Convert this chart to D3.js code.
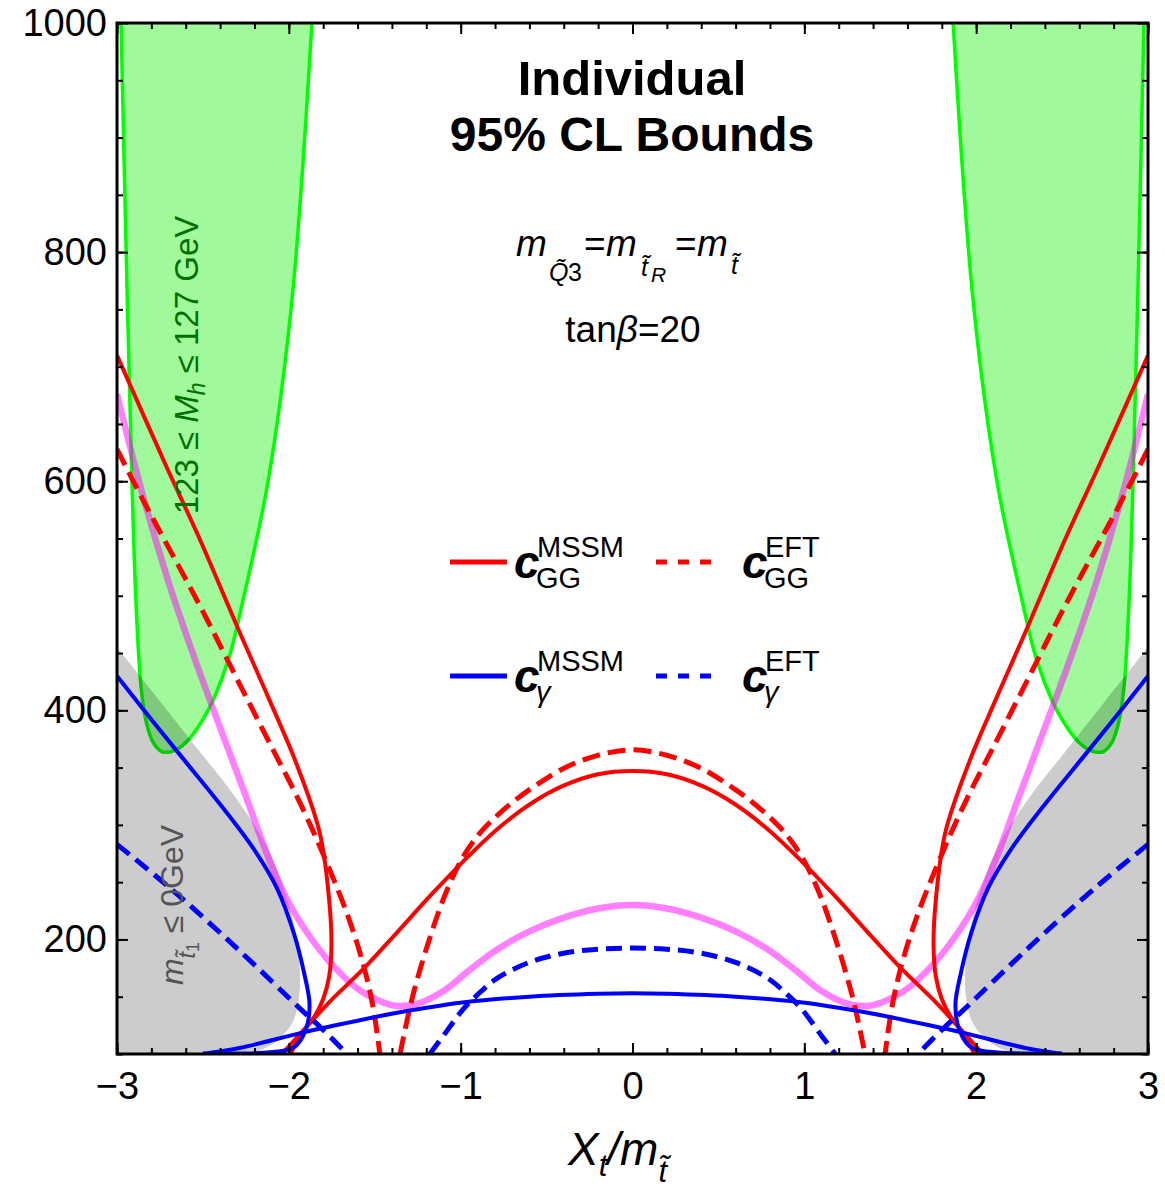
<!DOCTYPE html>
<html>
<head>
<meta charset="utf-8">
<script src="https://cdn.jsdelivr.net/npm/d3@7"></script>
<style>
body { margin: 0; background: #fff; }
text { font-family: "Liberation Sans", Arial, sans-serif; }
</style>
</head>
<body>
<div class="chart"></div>
<script>

// ---- values (x = Xt/m_t, y = m_t in GeV) ----

var xTicks = [-3, -2, -1, 0, 1, 2, 3];
var yTicks = [200, 400, 600, 800, 1000];

// pink curve
var pinkX = [-3, -2.85, -2.7, -2.55, -2.4, -2.25, -2.12, -2.0, -1.88, -1.76, -1.6, -1.45, -1.37, -1.25, -1.1, -0.95, -0.79, -0.6, -0.4, -0.2, 0,
             0.2, 0.4, 0.6, 0.79, 0.95, 1.1, 1.25, 1.37, 1.45, 1.6, 1.76, 1.88, 2.0, 2.12, 2.25, 2.4, 2.55, 2.7, 2.85, 3];
var pinkY = [676, 588, 512, 446, 385, 325, 272, 232, 203, 180, 157, 145, 142, 144, 155, 173, 191, 207, 219, 227, 230,
             227, 219, 207, 191, 173, 155, 144, 142, 145, 157, 180, 203, 232, 272, 325, 385, 446, 512, 588, 676];

// c_GG MSSM (solid red)
var ggMssmLeftX  = [-3, -2.71, -2.52, -2.28, -2.11, -1.96, -1.82, -1.765, -1.752, -1.765, -1.8, -1.85, -1.92, -1.99];
var ggMssmLeftY  = [710, 612, 550, 466, 408, 355, 293, 234, 195, 168, 148, 133, 119, 100];
var ggMssmRightX = [3, 2.71, 2.52, 2.28, 2.11, 1.96, 1.82, 1.765, 1.752, 1.765, 1.8, 1.85, 1.92, 1.99];
var ggMssmRightY = [710, 612, 550, 466, 408, 355, 293, 234, 195, 168, 148, 133, 119, 100];
var ggMssmMidX = [-2.04, -1.877, -1.76, -1.568, -1.371, -1.178, -0.986, -0.789, -0.597, -0.405, -0.207, 0,
                  0.207, 0.405, 0.597, 0.789, 0.986, 1.178, 1.371, 1.568, 1.76, 1.877, 2.04];
var ggMssmMidY = [100, 127, 146, 174, 206, 238, 268, 296, 318, 334, 344, 347,
                  344, 334, 318, 296, 268, 238, 206, 174, 146, 127, 100];

// c_GG EFT (dashed red)
var ggEftLeftX  = [-3, -2.85, -2.52, -2.28, -2.09, -1.97, -1.86, -1.76, -1.66, -1.57, -1.51, -1.47];
var ggEftLeftY  = [628, 584, 492, 421, 365, 330, 295, 260, 222, 180, 141, 100];
var ggEftRightX = [3, 2.85, 2.52, 2.28, 2.09, 1.97, 1.86, 1.76, 1.66, 1.57, 1.51, 1.47];
var ggEftRightY = [628, 584, 492, 421, 365, 330, 295, 260, 222, 180, 141, 100];
var ggEftMidX = [-1.353, -1.28, -1.178, -1.08, -0.986, -0.887, -0.789, -0.696, -0.597, -0.405, -0.207, 0,
                 0.207, 0.405, 0.597, 0.696, 0.789, 0.887, 0.986, 1.08, 1.178, 1.28, 1.353];
var ggEftMidY = [100, 150, 202, 243, 272, 293, 308, 320, 331, 349, 360.5, 365.5,
                 360.5, 349, 331, 320, 308, 293, 272, 243, 202, 150, 100];

// c_gamma MSSM (solid blue)
var gaMssmLeftX  = [-3, -2.8, -2.6, -2.4, -2.2, -2.07, -1.97, -1.91, -1.88, -1.89, -1.92, -1.96, -2.01, -2.15, -2.3, -2.5];
var gaMssmLeftY  = [430, 392, 355, 318, 278, 245, 205, 170, 145, 127, 115, 107, 103.5, 101, 100.5, 100.5];
var gaMssmRightX = [3, 2.8, 2.6, 2.4, 2.2, 2.07, 1.97, 1.91, 1.88, 1.89, 1.92, 1.96, 2.01, 2.15, 2.3, 2.5];
var gaMssmRightY = [430, 392, 355, 318, 278, 245, 205, 170, 145, 127, 115, 107, 103.5, 101, 100.5, 100.5];
var gaMssmMidX = [-2.5, -2.28, -1.94, -1.76, -1.37, -0.99, -0.6, -0.2, 0, 0.2, 0.6, 0.99, 1.37, 1.76, 1.94, 2.28, 2.5];
var gaMssmMidY = [100, 105.5, 118, 124, 136, 145, 150, 152.5, 153, 152.5, 150, 145, 136, 124, 118, 105.5, 100];

// c_gamma EFT (dashed blue)
var gaEftLeftX  = [-3, -2.7, -2.3, -1.93, -1.8, -1.66];
var gaEftLeftY  = [283, 246, 192, 139, 121, 100];
var gaEftRightX = [3, 2.7, 2.3, 1.93, 1.8, 1.66];
var gaEftRightY = [283, 246, 192, 139, 121, 100];
var gaEftMidX = [-1.18, -1.1, -0.986, -0.9, -0.789, -0.6, -0.4, -0.2, 0, 0.2, 0.4, 0.6, 0.789, 0.9, 0.986, 1.1, 1.18];
var gaEftMidY = [100, 116, 139, 152, 166, 180, 188, 191.5, 192.5, 191.5, 188, 180, 166, 152, 139, 116, 100];

// 123 <= Mh <= 127 GeV region (green), outline of each lobe
var higgsLeftX  = [-2.978, -2.94, -2.913, -2.89, -2.86, -2.83, -2.79, -2.74, -2.7, -2.65, -2.58, -2.5, -2.44, -2.35, -2.267, -2.121, -1.982, -1.862];
var higgsLeftY  = [1010, 758, 600, 496, 420, 390, 372, 364, 363.5, 366, 375, 392, 409, 445, 496, 600, 758, 1010];
var higgsRightX = [2.978, 2.94, 2.913, 2.89, 2.86, 2.83, 2.79, 2.74, 2.7, 2.65, 2.58, 2.5, 2.44, 2.35, 2.267, 2.121, 1.982, 1.862];
var higgsRightY = [1010, 758, 600, 496, 420, 390, 372, 364, 363.5, 366, 375, 392, 409, 445, 496, 600, 758, 1010];

// m_stop1 <= 0 region (gray), boundary from the frame edge down to the bottom
var tachLeftX  = [-3, -2.75, -2.54, -2.3, -2.12, -2.02, -1.96, -1.935, -1.945, -1.98, -2.05, -2.14, -2.25];
var tachLeftY  = [455, 408, 368, 322, 279, 240, 205, 170, 145, 127, 114, 105, 100];
var tachRightX = [3, 2.75, 2.54, 2.3, 2.12, 2.02, 1.96, 1.935, 1.945, 1.98, 2.05, 2.14, 2.25];
var tachRightY = [455, 408, 368, 322, 279, 240, 205, 170, 145, 127, 114, 105, 100];

var legendItems = [
  {sup: "MSSM", sub: "GG", color: "#ff0000", dash: null, col: 0, row: 0},
  {sup: "EFT",  sub: "GG", color: "#ff0000", dash: "11,11", col: 1, row: 0},
  {sup: "MSSM", sub: "\u03b3", color: "#0000ff", dash: null, col: 0, row: 1},
  {sup: "EFT",  sub: "\u03b3", color: "#0000ff", dash: "11,11", col: 1, row: 1}
];

// ---- drawing ----

function pts(xs, ys) { return xs.map(function(v, i) { return [v, ys[i]]; }); }

var svg = d3.select("div.chart").append("svg")
            .attr("width", 1165)
            .attr("height", 1192);

var x = d3.scaleLinear().domain([-3, 3]).range([117, 1148]);
var y = d3.scaleLinear().domain([100, 1000]).range([1054, 23]);

var line = d3.line()
  .x(function(d) { return x(d[0]); })
  .y(function(d) { return y(d[1]); })
  .curve(d3.curveCatmullRom.alpha(0.5));

svg.append("clipPath").attr("id", "plotclip")
   .append("rect").attr("x", 117).attr("y", 23).attr("width", 1031).attr("height", 1031);

var plot = svg.append("g").attr("clip-path", "url(#plotclip)");

// green lobes
[[higgsLeftX, higgsLeftY], [higgsRightX, higgsRightY]].forEach(function(p) {
  plot.append("path")
      .attr("d", line(pts(p[0], p[1])) + "Z")
      .attr("fill", "rgb(160,250,155)")
      .attr("stroke", "#00ff00")
      .attr("stroke-width", 3.5);
});

// gray lobes, black at 20% so green shows through darker
[[tachLeftX, tachLeftY, -3.2], [tachRightX, tachRightY, 3.2]].forEach(function(p) {
  var d = line(pts(p[0], p[1]));
  var xl = p[0][p[0].length - 1];
  d += "L" + x(xl) + "," + y(80) + "L" + x(p[2]) + "," + y(80) +
       "L" + x(p[2]) + "," + y(p[1][0]) + "Z";
  plot.append("path").attr("d", d).attr("fill", "#000").attr("fill-opacity", 0.2);
});

// pink
plot.append("path")
    .attr("d", line(pts(pinkX, pinkY)))
    .attr("fill", "none")
    .attr("stroke", "#ff00ff")
    .attr("stroke-opacity", 0.5)
    .attr("stroke-width", 6.5);

function curve(xs, ys, color, dash, w) {
  var p = plot.append("path")
      .attr("d", line(pts(xs, ys)))
      .attr("fill", "none")
      .attr("stroke", color)
      .attr("stroke-width", w);
  if (dash) p.attr("stroke-dasharray", dash);
}

curve(ggEftLeftX, ggEftLeftY, "#ff0000", "18,8", 5);
curve(ggEftRightX, ggEftRightY, "#ff0000", "18,8", 5);
curve(ggEftMidX, ggEftMidY, "#ff0000", "18,8", 5);
curve(ggMssmLeftX, ggMssmLeftY, "#ff0000", null, 4);
curve(ggMssmRightX, ggMssmRightY, "#ff0000", null, 4);
curve(ggMssmMidX, ggMssmMidY, "#ff0000", null, 4);

curve(gaEftLeftX, gaEftLeftY, "#0000ff", "16,8", 5);
curve(gaEftRightX, gaEftRightY, "#0000ff", "16,8", 5);
curve(gaEftMidX, gaEftMidY, "#0000ff", "16,8", 5);
curve(gaMssmLeftX, gaMssmLeftY, "#0000ff", null, 4);
curve(gaMssmRightX, gaMssmRightY, "#0000ff", null, 4);
curve(gaMssmMidX, gaMssmMidY, "#0000ff", null, 4);

// ---- axes: ticks inward on all four sides ----
var xMinor = d3.range(-3, 3.001, 0.2);
var yMinor = d3.range(100, 1000.1, 50);

function addAxis(axis, tx, ty, cls) {
  var g = svg.append("g").attr("class", cls)
     .attr("transform", "translate(" + tx + "," + ty + ")")
     .call(axis);
  g.select(".domain").remove();
  g.selectAll("line").attr("stroke", "#000").attr("stroke-width", 2);
  return g;
}

addAxis(d3.axisBottom(x).tickValues(xMinor).tickSize(-6).tickFormat(""), 0, 1054, "x minor");
addAxis(d3.axisTop(x).tickValues(xMinor).tickSize(-6).tickFormat(""), 0, 23, "x minor");
addAxis(d3.axisLeft(y).tickValues(yMinor).tickSize(-6).tickFormat(""), 117, 0, "y minor");
addAxis(d3.axisRight(y).tickValues(yMinor).tickSize(-6).tickFormat(""), 1148, 0, "y minor");

addAxis(d3.axisBottom(x).tickValues(xTicks).tickSize(-11).tickPadding(18).tickFormat(d3.format("d")), 0, 1054, "x axis");
addAxis(d3.axisTop(x).tickValues(xTicks).tickSize(-11).tickFormat(""), 0, 23, "x axis");
addAxis(d3.axisLeft(y).tickValues(yTicks).tickSize(-11).tickPadding(10).tickFormat(d3.format("d")), 117, 0, "y axis");
addAxis(d3.axisRight(y).tickValues(yTicks).tickSize(-11).tickFormat(""), 1148, 0, "y axis");

svg.selectAll(".axis text")
   .attr("font-family", "Liberation Sans, Arial, sans-serif")
   .attr("font-size", 38)
   .attr("fill", "#000");

svg.append("rect")
   .attr("x", 117).attr("y", 23).attr("width", 1031).attr("height", 1031)
   .attr("fill", "none").attr("stroke", "#000").attr("stroke-width", 3);

// ---- texts ----
svg.append("text").attr("x", 632).attr("y", 95).attr("text-anchor", "middle")
   .attr("font-size", 49).attr("font-weight", "bold").text("Individual");
svg.append("text").attr("x", 632).attr("y", 151).attr("text-anchor", "middle")
   .attr("font-size", 48).attr("font-weight", "bold").text("95% CL Bounds");

// m_Q3 = m_tR = m_t
var eq = svg.append("g");
function txt(g, xx, yy, s, size, italic) {
  return g.append("text").attr("x", xx).attr("y", yy).attr("font-size", size)
          .attr("font-style", italic ? "italic" : "normal").text(s);
}
txt(eq, 516, 256, "m", 37, true);
txt(eq, 549, 281, "Q\u0303", 25, true);
txt(eq, 568, 281, "3", 25, false);
txt(eq, 584, 256, "=", 37, false);
txt(eq, 606, 256, "m", 37, true);
txt(eq, 641, 276, "t\u0303", 25, true);
txt(eq, 651, 282, "R", 21, true);
txt(eq, 675, 256, "=", 37, false);
txt(eq, 697, 256, "m", 37, true);
txt(eq, 731, 274, "t\u0303", 25, true);

var tb = svg.append("text").attr("x", 633).attr("y", 342).attr("text-anchor", "middle").attr("font-size", 37);
tb.append("tspan").text("tan");
tb.append("tspan").attr("font-style", "italic").text("\u03b2");
tb.append("tspan").text("=20");

// green label
var gl = svg.append("text").attr("transform", "translate(198,365) rotate(-90)")
   .attr("text-anchor", "middle").attr("font-size", 33).attr("fill", "#007000");
gl.append("tspan").text("123 \u2264 ");
gl.append("tspan").attr("font-style", "italic").text("M");
gl.append("tspan").attr("font-style", "italic").attr("font-size", 23).attr("dy", 7).text("h");
gl.append("tspan").attr("dy", -7).text(" \u2264 127 GeV");

// gray label
var tl = svg.append("text").attr("transform", "translate(183,905) rotate(-90)")
   .attr("text-anchor", "middle").attr("font-size", 32).attr("fill", "#555");
tl.append("tspan").attr("font-style", "italic").text("m");
tl.append("tspan").attr("font-style", "italic").attr("font-size", 23).attr("dy", 12).text("t\u0303");
tl.append("tspan").attr("font-size", 18).attr("dy", 4).text("1");
tl.append("tspan").attr("dy", -16).text(" \u2264 0GeV");

// x axis title
var xt = svg.append("text").attr("x", 568).attr("y", 1165).attr("font-size", 46).attr("font-style", "italic");
xt.append("tspan").text("X");
xt.append("tspan").attr("font-size", 31).attr("dy", 11).text("t");
xt.append("tspan").attr("dy", -11).text("/m");
xt.append("tspan").attr("font-size", 31).attr("dy", 17).text("t\u0303");

// legend
var lg = svg.append("g");
legendItems.forEach(function(d) {
  var lx = 450 + d.col * 206, ly = 562 + d.row * 114;
  var l = lg.append("line").attr("x1", lx).attr("x2", lx + 57).attr("y1", ly).attr("y2", ly)
            .attr("stroke", d.color).attr("stroke-width", 5);
  if (d.dash) l.attr("stroke-dasharray", d.dash);
  var tx0 = lx + 64 + d.col * 22;
  lg.append("text").attr("x", tx0).attr("y", ly + 16).attr("font-size", 46)
    .attr("font-style", "italic").attr("font-weight", "bold").text("c");
  lg.append("text").attr("x", tx0 + 23).attr("y", ly - 5).attr("font-size", 29).text(d.sup);
  lg.append("text").attr("x", tx0 + 22).attr("y", ly + 26).attr("font-size", 29)
    .attr("font-style", d.sub === "GG" ? "normal" : "italic").text(d.sub);
});

</script>
</body>
</html>
